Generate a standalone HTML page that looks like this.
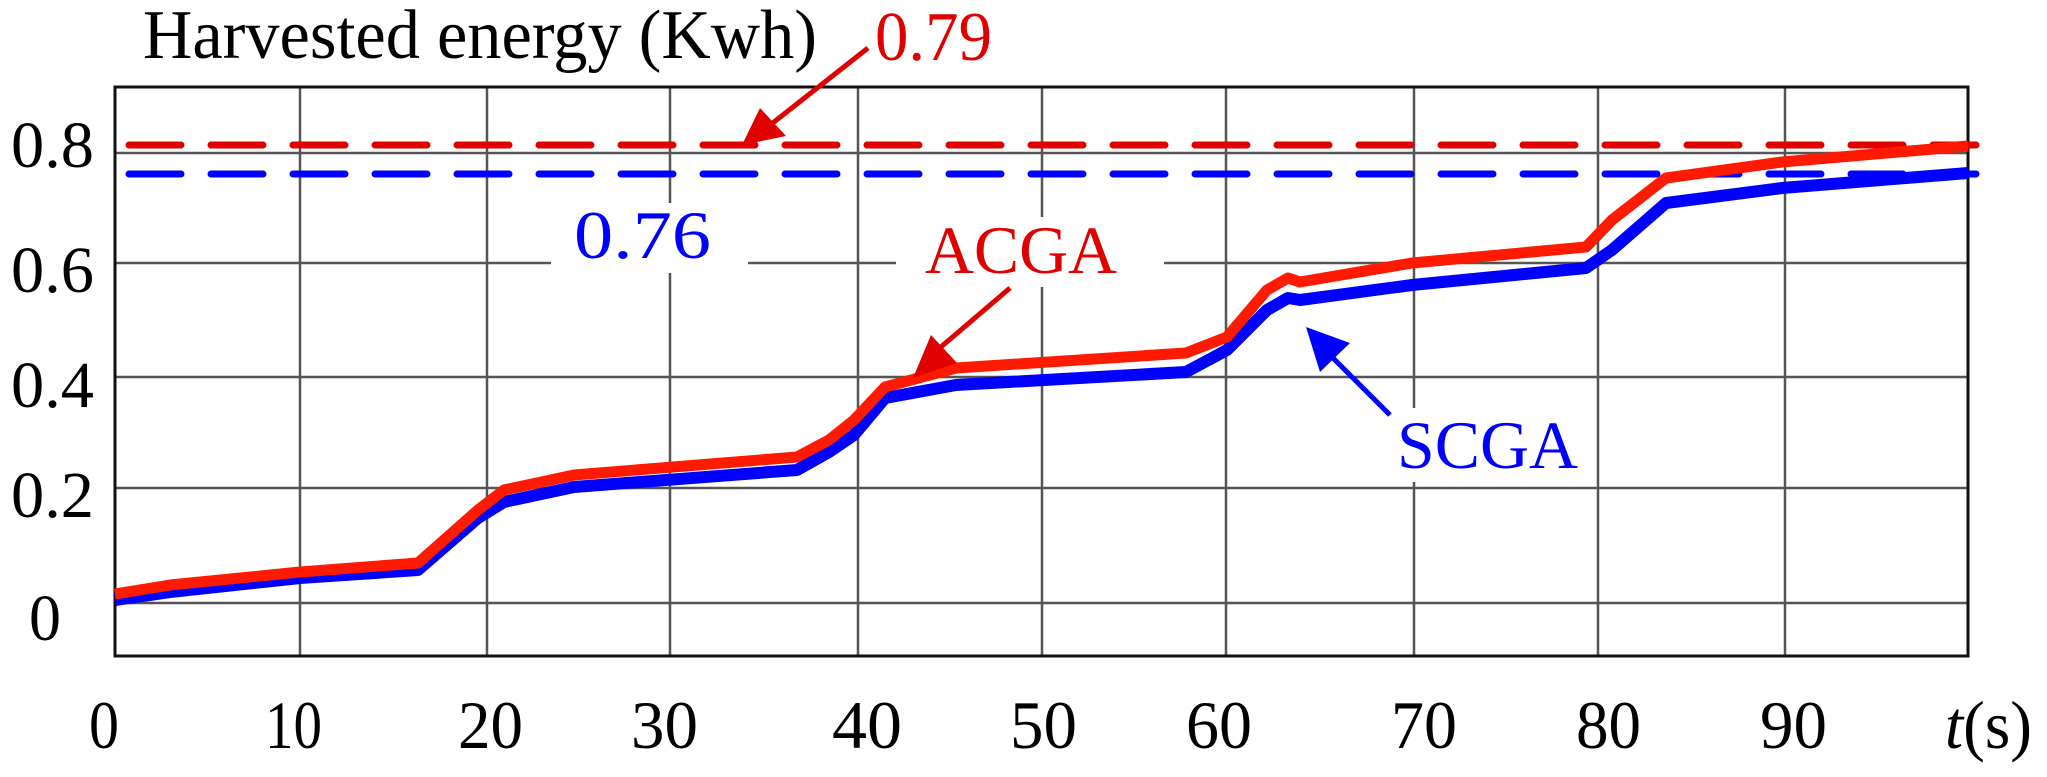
<!DOCTYPE html>
<html><head><meta charset="utf-8"><style>
html,body{margin:0;padding:0;background:#fff;}
svg{display:block;}
text{font-family:"Liberation Serif",serif;}
</style></head><body>
<svg width="2047" height="777" viewBox="0 0 2047 777" xmlns="http://www.w3.org/2000/svg">
<rect width="2047" height="777" fill="#fff"/>
<g stroke="#555" stroke-width="2.5" fill="none">
<line x1="115" y1="153" x2="1968" y2="153"/>
<line x1="115" y1="263" x2="551" y2="263"/>
<line x1="748" y1="263" x2="896" y2="263"/>
<line x1="1164" y1="263" x2="1968" y2="263"/>
<line x1="115" y1="377" x2="1968" y2="377"/>
<line x1="115" y1="488" x2="1968" y2="488"/>
<line x1="115" y1="603" x2="1968" y2="603"/>
<line x1="300" y1="87" x2="300" y2="656"/>
<line x1="487" y1="87" x2="487" y2="656"/>
<line x1="670" y1="87" x2="670" y2="203"/>
<line x1="670" y1="273" x2="670" y2="656"/>
<line x1="858" y1="87" x2="858" y2="656"/>
<line x1="1042" y1="87" x2="1042" y2="217"/>
<line x1="1042" y1="287" x2="1042" y2="656"/>
<line x1="1226" y1="87" x2="1226" y2="656"/>
<line x1="1414" y1="87" x2="1414" y2="408"/>
<line x1="1414" y1="482" x2="1414" y2="656"/>
<line x1="1598" y1="87" x2="1598" y2="656"/>
<line x1="1785" y1="87" x2="1785" y2="656"/>
</g>
<rect x="115" y="87" width="1853" height="569" fill="none" stroke="#111" stroke-width="3"/>
<line x1="129" y1="145" x2="1976" y2="145" stroke="#e00000" stroke-width="7" stroke-dasharray="52 30" stroke-linecap="round"/>
<line x1="129" y1="174" x2="1976" y2="174" stroke="#0000ff" stroke-width="7" stroke-dasharray="52 30" stroke-linecap="round"/>
<polyline fill="none" stroke="#0000ff" stroke-width="12" stroke-linejoin="round" points="115,600 170,592 300,578 418,570 478,518 504,502 574,487 797,470 829,452 854,435 885,398 956,385 1186,372 1227,350 1267,310 1288,298 1300,300 1412,285 1586,268 1612,250 1666,203 1782,188 1968,173"/>
<polyline fill="none" stroke="#ff1a00" stroke-width="11" stroke-linejoin="round" points="115,594 170,585 300,572 418,563 478,510 504,490 574,475 797,457 829,440 854,420 885,387 956,368 1186,353 1227,337 1267,290 1288,278 1300,282 1412,263 1586,247 1612,220 1666,178 1782,162 1968,146"/>
<g stroke-width="5">
<line x1="868" y1="48" x2="760" y2="133" stroke="#e00000"/>
<polygon points="742,145 760,108 786,136" fill="#e00000"/>
<line x1="1010" y1="288" x2="928" y2="358" stroke="#e00000"/>
<polygon points="913,378 931,335 957,363" fill="#e00000"/>
<line x1="1390" y1="415" x2="1320" y2="345" stroke="#0000ff"/>
<polygon points="1306,327 1350,343 1320,372" fill="#0000ff"/>
</g>
<text x="143" y="58" font-size="70" textLength="674" lengthAdjust="spacingAndGlyphs" fill="#000">Harvested energy (Kwh)</text>
<text x="875" y="60" font-size="70" textLength="117" lengthAdjust="spacingAndGlyphs" fill="#e00000">0.79</text>
<text x="574" y="258" font-size="68" textLength="137" lengthAdjust="spacingAndGlyphs" fill="#0000ff">0.76</text>
<text x="925" y="273" font-size="68" textLength="192" lengthAdjust="spacingAndGlyphs" fill="#e00000">ACGA</text>
<text x="1397" y="468" font-size="68" textLength="181" lengthAdjust="spacingAndGlyphs" fill="#0000ff">SCGA</text>
<g font-size="66" fill="#000">
<text x="11" y="167" textLength="83" lengthAdjust="spacingAndGlyphs">0.8</text>
<text x="11" y="292" textLength="83" lengthAdjust="spacingAndGlyphs">0.6</text>
<text x="11" y="407" textLength="83" lengthAdjust="spacingAndGlyphs">0.4</text>
<text x="11" y="517" textLength="83" lengthAdjust="spacingAndGlyphs">0.2</text>
<text x="29" y="640" textLength="32" lengthAdjust="spacingAndGlyphs">0</text>
</g>
<g font-size="68" fill="#000">
<text x="89" y="748" textLength="30" lengthAdjust="spacingAndGlyphs">0</text>
<text x="265" y="748" textLength="57" lengthAdjust="spacingAndGlyphs">10</text>
<text x="458" y="748" textLength="65" lengthAdjust="spacingAndGlyphs">20</text>
<text x="631" y="748" textLength="67" lengthAdjust="spacingAndGlyphs">30</text>
<text x="832" y="748" textLength="70" lengthAdjust="spacingAndGlyphs">40</text>
<text x="1010" y="748" textLength="67" lengthAdjust="spacingAndGlyphs">50</text>
<text x="1186" y="748" textLength="66" lengthAdjust="spacingAndGlyphs">60</text>
<text x="1391" y="748" textLength="66" lengthAdjust="spacingAndGlyphs">70</text>
<text x="1576" y="748" textLength="65" lengthAdjust="spacingAndGlyphs">80</text>
<text x="1760" y="748" textLength="67" lengthAdjust="spacingAndGlyphs">90</text>
<text x="1945" y="748" textLength="87" lengthAdjust="spacingAndGlyphs"><tspan font-style="italic">t</tspan>(s)</text>
</g>
</svg>
</body></html>
